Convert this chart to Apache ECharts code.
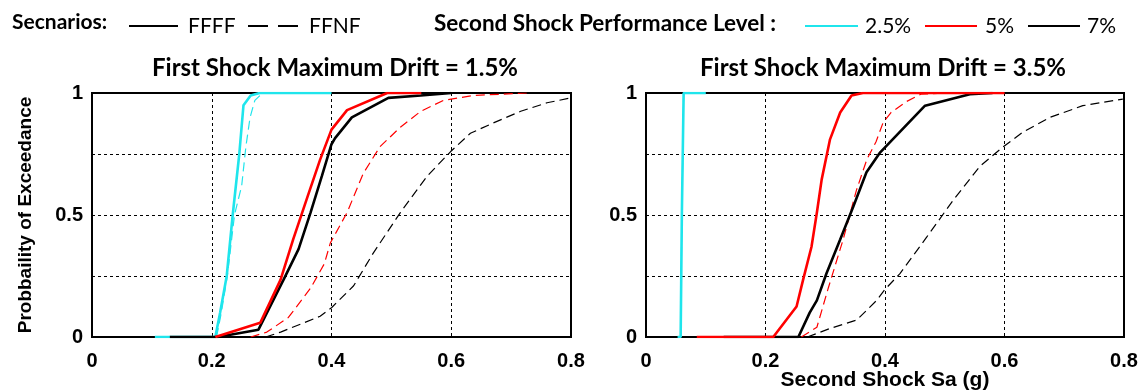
<!DOCTYPE html>
<html><head><meta charset="utf-8">
<script src="https://cdn.jsdelivr.net/npm/echarts@6/dist/echarts.min.js"></script>
<style>html,body{margin:0;padding:0;background:#fff}#c{width:1141px;height:392px}</style>
</head><body><div id="c"></div><script>
// Panel titles and axis text
const panelTitles = ['First Shock Maximum Drift = 1.5%', 'First Shock Maximum Drift = 3.5%'];
const xTicks = [0, 0.2, 0.4, 0.6, 0.8];
const yTickLabels = [0, 0.5, 1];
const scenarios = ['FFFF', 'FFNF'];
const levels = ['2.5%', '5%', '7%'];

// Left panel (first shock drift 1.5%) : [Sa, P]
const c25_FFFF_L = [[0.105,0],[0.206,0],[0.214,0.1],[0.225,0.25],[0.235,0.5],[0.246,0.75],[0.253,0.95],[0.265,0.99],[0.28,1],[0.4,1]];
const c25_FFNF_L = [[0.208,0],[0.216,0.1],[0.226,0.25],[0.238,0.5],[0.25,0.62],[0.257,0.78],[0.264,0.9],[0.272,0.97],[0.285,1],[0.4,1]];
const r5_FFFF_L = [[0.206,0],[0.281,0.058],[0.315,0.235],[0.336,0.4],[0.36,0.575],[0.381,0.727],[0.4,0.85],[0.426,0.93],[0.493,1],[0.55,1]];
const r5_FFNF_L = [[0.265,0],[0.292,0.02],[0.328,0.08],[0.365,0.2],[0.388,0.3],[0.398,0.385],[0.426,0.51],[0.453,0.67],[0.481,0.78],[0.515,0.86],[0.549,0.925],[0.587,0.97],[0.637,0.99],[0.727,1]];
const k7_FFFF_L = [[0.13,0],[0.21,0],[0.278,0.03],[0.32,0.235],[0.345,0.36],[0.365,0.51],[0.384,0.66],[0.4,0.79],[0.406,0.815],[0.434,0.9],[0.495,0.98],[0.549,0.99],[0.6,1]];
const k7_FFNF_L = [[0.29,0],[0.315,0.02],[0.381,0.085],[0.4,0.12],[0.437,0.21],[0.47,0.345],[0.515,0.51],[0.56,0.66],[0.599,0.76],[0.632,0.835],[0.67,0.877],[0.716,0.925],[0.76,0.96],[0.8,0.98]];

// Right panel (first shock drift 3.5%)
const c25_FFFF_R = [[0.053,0],[0.058,0],[0.06,0.5],[0.063,1],[0.1,1]];
const c25_FFNF_R = [[0.053,0],[0.058,0],[0.06,0.5],[0.063,1],[0.1,1]];
const r5_FFFF_R = [[0.085,0],[0.213,0],[0.252,0.125],[0.263,0.235],[0.277,0.37],[0.286,0.51],[0.294,0.645],[0.308,0.81],[0.325,0.92],[0.344,0.99],[0.363,1],[0.6,1]];
const r5_FFNF_R = [[0.26,0],[0.286,0.04],[0.305,0.2],[0.33,0.4],[0.352,0.6],[0.37,0.73],[0.385,0.8],[0.397,0.88],[0.41,0.92],[0.436,0.965],[0.46,0.995],[0.5,1],[0.6,1]];
const k7_FFFF_R = [[0.13,0],[0.255,0],[0.274,0.1],[0.286,0.15],[0.302,0.26],[0.325,0.4],[0.347,0.535],[0.369,0.675],[0.392,0.757],[0.467,0.948],[0.542,0.995],[0.58,1]];
const k7_FFNF_R = [[0.27,0],[0.308,0.035],[0.353,0.07],[0.386,0.15],[0.4,0.195],[0.425,0.26],[0.47,0.41],[0.514,0.56],[0.559,0.7],[0.598,0.78],[0.631,0.84],[0.676,0.9],[0.731,0.948],[0.798,0.975]];

const CYAN = '#1fe5ec', RED = '#ff0000', BLACK = '#000000';
const SOLID_W = 2.6, DASH_W = 1.2, DASH = [9, 5];

function mk(name, data, color, dashed, gi) {
  return {
    name: name, type: 'line', xAxisIndex: gi, yAxisIndex: gi, data: data,
    symbol: 'none', silent: true, z: dashed ? 2 : 3,
    lineStyle: {color: color, width: dashed ? DASH_W : SOLID_W, type: dashed ? DASH : 'solid'},
    itemStyle: {color: color}
  };
}
function dummy(name, color, dashed) {
  return {name: name, type: 'line', xAxisIndex: 0, yAxisIndex: 0, data: [], symbol: 'none', symbolSize: 0,
    lineStyle: {color: color, width: dashed ? 1.5 : 2.5, type: dashed ? [20, 10] : 'solid'},
    itemStyle: {color: color}};
}
const labelFont = {fontFamily: 'Liberation Sans', fontWeight: 'bold', fontSize: 20, color: '#000'};
function xAx(gi, extra) {
  return Object.assign({
    type: 'value', gridIndex: gi, min: 0, max: 0.8, interval: 0.2,
    axisLine: {show: false}, axisTick: {show: false},
    axisLabel: Object.assign({margin: 14, showMinLabel: true, showMaxLabel: true,
      formatter: v => xTicks.some(t => Math.abs(t - v) < 1e-9) ? String(+v.toFixed(1)) : ''}, labelFont),
    splitLine: {show: true, lineStyle: {color: '#000', width: 1, type: [3, 3]}}
  }, extra || {});
}
function yAx(gi, extra) {
  return Object.assign({
    type: 'value', gridIndex: gi, min: 0, max: 1, interval: 0.25,
    axisLine: {show: false}, axisTick: {show: false},
    axisLabel: Object.assign({margin: 9, showMinLabel: true, showMaxLabel: true,
      formatter: v => yTickLabels.some(t => Math.abs(t - v) < 1e-9) ? String(v) : ''}, labelFont),
    splitLine: {show: true, lineStyle: {color: '#000', width: 1, type: [3, 3]}}
  }, extra || {});
}
function leg(name, left, w, pad) {
  return {data: [name], left: left, top: 12, padding: 0, itemWidth: w, itemHeight: 14,
    selectedMode: false, itemStyle: {opacity: 0, borderWidth: 0},
    textStyle: {fontFamily: 'Lato', fontSize: 21, color: '#000', padding: [4, 0, 0, pad], lineHeight: 24}};
}

const chart = echarts.init(document.getElementById('c'), null, {renderer: 'canvas'});
chart.setOption({
  backgroundColor: '#fff',
  animation: false,
  grid: [
    {left: 92, top: 93, width: 479, height: 244, outerBoundsMode: 'none', containLabel: false, show: true, borderColor: '#000', borderWidth: 2, backgroundColor: 'rgba(0,0,0,0)'},
    {left: 646, top: 93, width: 478, height: 244, outerBoundsMode: 'none', containLabel: false, show: true, borderColor: '#000', borderWidth: 2, backgroundColor: 'rgba(0,0,0,0)'}
  ],
  xAxis: [
    xAx(0),
    xAx(1, {name: 'Second Shock Sa (g)', nameLocation: 'middle', nameGap: 33, nameMoveOverlap: false,
      nameTextStyle: {fontFamily: 'Liberation Sans', fontWeight: 'bold', fontSize: 21, color: '#000'}})
  ],
  yAxis: [
    yAx(0, {name: 'Probbaility of Exceedance', nameLocation: 'middle', nameGap: 57, nameMoveOverlap: false,
      nameTextStyle: {fontFamily: 'Liberation Sans', fontWeight: 'bold', fontSize: 19, color: '#000'}}),
    yAx(1)
  ],
  legend: [
    leg(scenarios[0], 128, 49, 5),
    leg(scenarios[1], 247, 50, 6),
    leg(levels[0], 804, 53, 2),
    leg(levels[1], 924, 52, 3),
    leg(levels[2], 1027, 52, 2)
  ],
  graphic: [
    {type: 'text', left: 12, top: 12, style: {text: 'Secnarios:', fontFamily: 'Lato', fontWeight: 'bold', fontSize: 21, fill: '#000'}},
    {type: 'text', left: 434, top: 12, style: {text: 'Second Shock Performance Level :', fontFamily: 'Lato', fontWeight: 'bold', fontSize: 22.5, fill: '#000'}},
    {type: 'text', x: 335, y: 68, style: {text: panelTitles[0], fontFamily: 'Lato', fontWeight: 'bold', fontSize: 24, fill: '#000', align: 'center', verticalAlign: 'middle'}},
    {type: 'text', x: 883, y: 68, style: {text: panelTitles[1], fontFamily: 'Lato', fontWeight: 'bold', fontSize: 24, fill: '#000', align: 'center', verticalAlign: 'middle'}}
  ],
  series: [
    dummy(scenarios[0], BLACK, false),
    dummy(scenarios[1], BLACK, true),
    dummy(levels[0], CYAN, false),
    dummy(levels[1], RED, false),
    dummy(levels[2], BLACK, false),
    mk('2.5% FFNF 1.5%', c25_FFNF_L, CYAN, true, 0),
    mk('5% FFNF 1.5%', r5_FFNF_L, RED, true, 0),
    mk('7% FFNF 1.5%', k7_FFNF_L, BLACK, true, 0),
    mk('2.5% FFFF 1.5%', c25_FFFF_L, CYAN, false, 0),
    mk('7% FFFF 1.5%', k7_FFFF_L, BLACK, false, 0),
    mk('5% FFFF 1.5%', r5_FFFF_L, RED, false, 0),
    mk('2.5% FFNF 3.5%', c25_FFNF_R, CYAN, true, 1),
    mk('5% FFNF 3.5%', r5_FFNF_R, RED, true, 1),
    mk('7% FFNF 3.5%', k7_FFNF_R, BLACK, true, 1),
    mk('2.5% FFFF 3.5%', c25_FFFF_R, CYAN, false, 1),
    mk('7% FFFF 3.5%', k7_FFFF_R, BLACK, false, 1),
    mk('5% FFFF 3.5%', r5_FFFF_R, RED, false, 1)
  ]
});
</script></body></html>
